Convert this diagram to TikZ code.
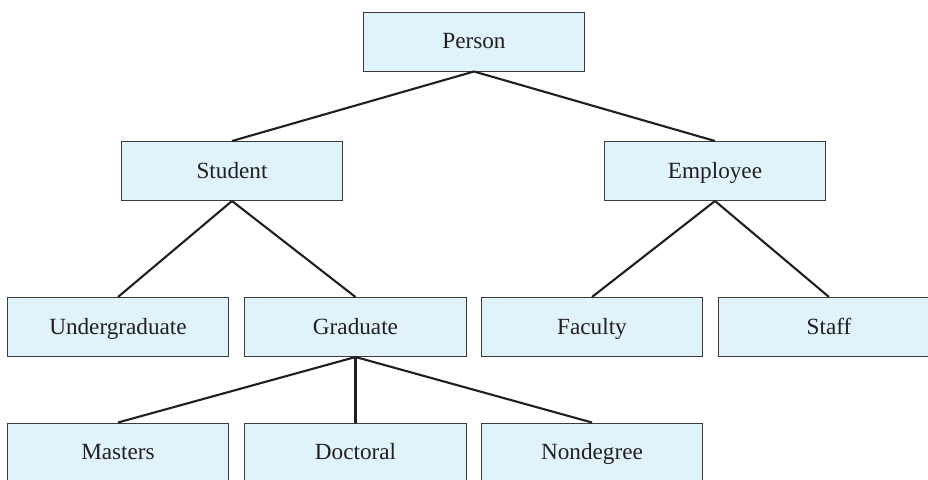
\documentclass[tikz,border=0pt]{standalone}
\usepackage{fontspec}
\setmainfont{Liberation Serif}
\definecolor{boxblue}{RGB}{224,242,250}
\definecolor{boxedge}{RGB}{60,60,60}
\definecolor{inkgray}{RGB}{35,31,32}
\usepackage{tikz}
\usetikzlibrary{positioning}

\begin{document}
\begin{tikzpicture}[x=0.025cm,y=-0.025cm,
    classbox/.style={draw=boxedge,fill=boxblue,line width=0.7pt,
        minimum width=5.525cm,minimum height=1.475cm,inner sep=0pt,
        text height=2.2ex,text depth=0ex,
        text=inkgray,font=\fontsize{16.5}{20}\selectfont},
    link/.style={draw=inkgray,line width=1.5pt}]
  \useasboundingbox (0,0) rectangle (928,480);
  \clip (0,0) rectangle (928,480);
  %% Level 0
  \node[classbox] (person) at (474,41.5) {Person};
  %% Level 1
  \node[classbox] (student)  at (232,171) {Student};
  \node[classbox] (employee) at (715,171) {Employee};
  %% Level 2
  \node[classbox] (undergrad) at (118,327)   {Undergraduate};
  \node[classbox] (graduate)  at (355.5,327) {Graduate};
  \node[classbox] (faculty)   at (592,327)   {Faculty};
  \node[classbox] (staff)     at (829,327)   {Staff};
  %% Level 3
  \node[classbox] (masters)   at (118,452.5)   {Masters};
  \node[classbox] (doctoral)  at (355.5,452.5) {Doctoral};
  \node[classbox] (nondegree) at (592,452.5)   {Nondegree};
  %% Links
  \draw[link] (person.south) -- (student.north);
  \draw[link] (person.south) -- (employee.north);
  \draw[link] (student.south) -- (undergrad.north);
  \draw[link] (student.south) -- (graduate.north);
  \draw[link] (employee.south) -- (faculty.north);
  \draw[link] (employee.south) -- (staff.north);
  \draw[link] (graduate.south) -- (masters.north);
  \draw[link] (graduate.south) -- (doctoral.north);
  \draw[link] (graduate.south) -- (nondegree.north);
\end{tikzpicture}
\end{document}
